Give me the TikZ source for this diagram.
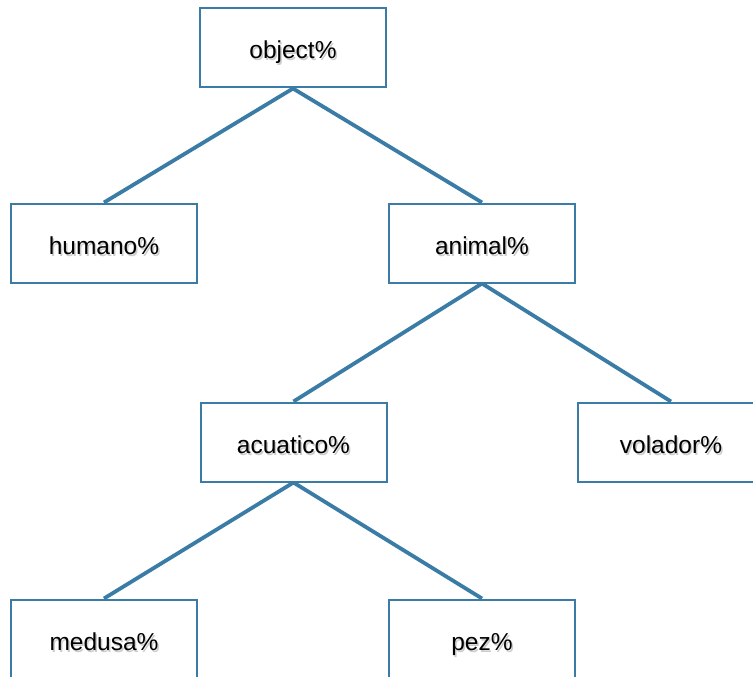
\documentclass[tikz,border=0pt]{standalone}
\usepackage{fontspec}
\setmainfont{Liberation Sans}
\definecolor{edgeblue}{HTML}{3A7CA5}
\newcommand\shtext[1]{\makebox[0pt][l]{\raisebox{-2pt}{\hspace{1.5pt}\textcolor{black!20}{#1}}}#1}
\begin{document}
\begin{tikzpicture}[x=1pt,y=-1pt,
  box/.style={draw=edgeblue,line width=2pt,fill=white,minimum width=186pt,minimum height=79pt,inner sep=0pt,text height=24pt,text depth=2pt,font=\fontsize{24.5}{28}\selectfont,text=black},
  link/.style={draw=edgeblue,line width=3.8pt}]
\useasboundingbox (0,0) rectangle (753,677);
\clip (0,0) rectangle (753,677);
\node[box] (object) at (293,48) {\shtext{object\%}};
\node[box] (humano) at (104,243) {\shtext{humano\%}};
\node[box] (animal) at (482,243) {\shtext{animal\%}};
\node[box] (acuatico) at (293.5,442) {\shtext{acuatico\%}};
\node[box] (volador) at (671,442) {\shtext{volador\%}};
\node[box] (medusa) at (104,639) {\shtext{medusa\%}};
\node[box] (pez) at (482,639) {\shtext{pez\%}};
\draw[link] (object.south) -- (humano.north);
\draw[link] (object.south) -- (animal.north);
\draw[link] (animal.south) -- (acuatico.north);
\draw[link] (animal.south) -- (volador.north);
\draw[link] (acuatico.south) -- (medusa.north);
\draw[link] (acuatico.south) -- (pez.north);
\end{tikzpicture}
\end{document}
